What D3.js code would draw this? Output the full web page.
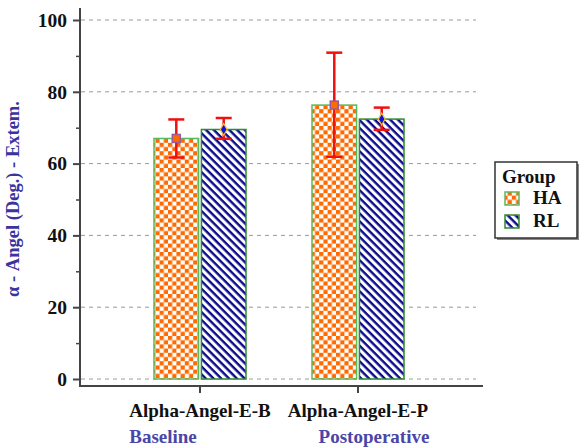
<!DOCTYPE html>
<html>
<head>
<meta charset="utf-8">
<script src="https://d3js.org/d3.v7.min.js"></script>
</head>
<body style="margin:0; background:#fff">
<script>
// data
var categories = ["Alpha-Angel-E-B", "Alpha-Angel-E-P"];
var phases = ["Baseline", "Postoperative"];
var groups = ["HA", "RL"];
var haMean = [67.0, 76.3];
var haLow = [61.7, 61.9];
var haHigh = [72.3, 90.9];
var rlMean = [69.5, 72.4];
var rlLow = [66.9, 69.4];
var rlHigh = [72.7, 75.6];
var yTicks = [0, 20, 40, 60, 80, 100];

var W = 579, H = 447;
var FONT = "Liberation Serif";
var svg = d3.select("body").append("svg").attr("width", W).attr("height", H);

// patterns
var defs = svg.append("defs");
var chk = defs.append("pattern").attr("id", "chk").attr("patternUnits", "userSpaceOnUse")
  .attr("width", 8.4).attr("height", 8.4);
chk.append("rect").attr("width", 8.4).attr("height", 8.4).attr("fill", "#fff");
chk.append("rect").attr("width", 4.2).attr("height", 4.2).attr("fill", "#ff6a00");
chk.append("rect").attr("x", 4.2).attr("y", 4.2).attr("width", 4.2).attr("height", 4.2).attr("fill", "#ff6a00");

var str = defs.append("pattern").attr("id", "str").attr("patternUnits", "userSpaceOnUse")
  .attr("width", 5.5).attr("height", 5.5).attr("patternTransform", "rotate(45)");
str.append("rect").attr("width", 5.5).attr("height", 5.5).attr("fill", "#fff");
str.append("rect").attr("width", 5.5).attr("height", 2.4).attr("fill", "#0a0a8c");

var fills = {HA: "url(#chk)", RL: "url(#str)"};
var borders = {HA: "#5cb85c", RL: "#2e8b2e"};

var y = d3.scaleLinear().domain([0, 100]).range([379, 20]);
var x0 = d3.scaleBand().domain(categories).range([121, 437]);
var x1 = d3.scaleBand().domain(groups).range([0, 92]).paddingInner(0.06);

// grid
svg.append("g").selectAll("line").data(yTicks).enter().append("line")
  .attr("x1", 81).attr("x2", 476)
  .attr("y1", function(d){ return y(d); }).attr("y2", function(d){ return y(d); })
  .attr("stroke", "#9a9a9a").attr("stroke-width", 1).attr("stroke-dasharray", "4,4");

// y axis
var yAxis = d3.axisLeft(y).tickValues(yTicks).tickSize(7).tickPadding(6);
var ya = svg.append("g").attr("transform", "translate(80,0)").call(yAxis);
ya.select(".domain").remove();
ya.selectAll(".tick line").attr("stroke", "#444").attr("stroke-width", 2);
ya.selectAll(".tick text").attr("fill", "#111").attr("font-family", FONT)
  .attr("font-weight", "bold").attr("font-size", 19.5);
var minor = d3.axisLeft(y).tickValues([10, 30, 50, 70, 90]).tickSize(4).tickFormat("");
var ym = svg.append("g").attr("transform", "translate(80,0)").call(minor);
ym.select(".domain").remove();
ym.selectAll(".tick line").attr("stroke", "#444").attr("stroke-width", 1.5);
svg.append("line").attr("x1", 80).attr("x2", 80).attr("y1", 8).attr("y2", 387)
  .attr("stroke", "#444").attr("stroke-width", 2);

// x axis
svg.append("line").attr("x1", 79).attr("x2", 483).attr("y1", 386).attr("y2", 386)
  .attr("stroke", "#444").attr("stroke-width", 2);
var xAxis = d3.axisBottom(x0).tickSize(7).tickPadding(11);
var xa = svg.append("g").attr("transform", "translate(0,386)").call(xAxis);
xa.select(".domain").remove();
xa.selectAll(".tick line").attr("stroke", "#444").attr("stroke-width", 2);
xa.selectAll(".tick text").attr("fill", "#111").attr("font-family", FONT)
  .attr("font-weight", "bold").attr("font-size", 19);

// phase labels
svg.selectAll(".phase").data(phases).enter().append("text")
  .attr("class", "phase")
  .attr("x", function(d, i){ return x0(categories[i]) + x0.bandwidth() / 2 + (i == 0 ? -37 : 16); })
  .attr("y", 443).attr("text-anchor", "middle")
  .attr("font-family", FONT).attr("font-weight", "bold")
  .attr("font-size", 19).attr("fill", "#4a46a8").text(function(d){ return d; });

// y title
svg.append("text").attr("transform", "translate(19,199) rotate(-90)")
  .attr("text-anchor", "middle").attr("font-family", FONT).attr("font-weight", "bold")
  .attr("font-size", 18.5).attr("fill", "#3a34a0")
  .text("\u03b1 - Angel (Deg.) - Extem.");

// bars
var rows = [];
categories.forEach(function(c, i){
  rows.push({cat: c, g: "HA", mean: haMean[i], lo: haLow[i], hi: haHigh[i]});
  rows.push({cat: c, g: "RL", mean: rlMean[i], lo: rlLow[i], hi: rlHigh[i]});
});
function bx(d){ return x0(d.cat) + x0.bandwidth() / 2 - 46 + x1(d.g); }
function cx(d){ return bx(d) + x1.bandwidth() / 2; }

svg.selectAll(".bar").data(rows).enter().append("rect")
  .attr("x", bx).attr("width", x1.bandwidth())
  .attr("y", function(d){ return y(d.mean); })
  .attr("height", function(d){ return y(0) - y(d.mean); })
  .attr("fill", function(d){ return fills[d.g]; })
  .attr("stroke", function(d){ return borders[d.g]; }).attr("stroke-width", 1.5);

// error bars
var eb = svg.selectAll(".eb").data(rows).enter().append("g").attr("stroke", "#f01010").attr("stroke-width", 2.5);
eb.append("line").attr("x1", cx).attr("x2", cx)
  .attr("y1", function(d){ return y(d.lo); }).attr("y2", function(d){ return y(d.hi); });
eb.append("line").attr("x1", function(d){ return cx(d) - 8; }).attr("x2", function(d){ return cx(d) + 8; })
  .attr("y1", function(d){ return y(d.hi); }).attr("y2", function(d){ return y(d.hi); });
eb.append("line").attr("x1", function(d){ return cx(d) - 8; }).attr("x2", function(d){ return cx(d) + 8; })
  .attr("y1", function(d){ return y(d.lo); }).attr("y2", function(d){ return y(d.lo); });

// mean markers
svg.selectAll(".mk").data(rows.filter(function(d){ return d.g == "HA"; })).enter().append("rect")
  .attr("x", function(d){ return cx(d) - 4; }).attr("y", function(d){ return y(d.mean) - 4; })
  .attr("width", 8).attr("height", 8).attr("fill", "#ff6a00").attr("stroke", "#9a5a9a").attr("stroke-width", 1.5);
svg.selectAll(".mk2").data(rows.filter(function(d){ return d.g == "RL"; })).enter().append("path")
  .attr("transform", function(d){ return "translate(" + cx(d) + "," + y(d.mean) + ")"; })
  .attr("d", d3.symbol().type(d3.symbolDiamond).size(40))
  .attr("fill", "#1010e0").attr("stroke", "#f0c030").attr("stroke-width", 1.2);

// legend
var lg = svg.append("g").attr("transform", "translate(495,162)");
lg.append("rect").attr("x", 2).attr("y", 2).attr("width", 83).attr("height", 76).attr("fill", "#888");
lg.append("rect").attr("width", 82).attr("height", 76).attr("fill", "#fff").attr("stroke", "#333").attr("stroke-width", 1.5);
lg.append("text").attr("x", 7).attr("y", 21).attr("font-family", FONT).attr("font-weight", "bold")
  .attr("font-size", 19).attr("fill", "#111").text("Group");
lg.selectAll(".li").data(groups).enter().append("rect")
  .attr("x", 10).attr("y", function(d, i){ return 30 + i * 23; })
  .attr("width", 14).attr("height", 13)
  .attr("fill", function(d){ return fills[d]; }).attr("stroke", function(d){ return borders[d]; }).attr("stroke-width", 1.5);
lg.selectAll(".lt").data(groups).enter().append("text")
  .attr("x", 38).attr("y", function(d, i){ return 42 + i * 23; })
  .attr("font-family", FONT).attr("font-weight", "bold")
  .attr("font-size", 19).attr("fill", "#111").text(function(d){ return d; });
</script>
</body>
</html>
